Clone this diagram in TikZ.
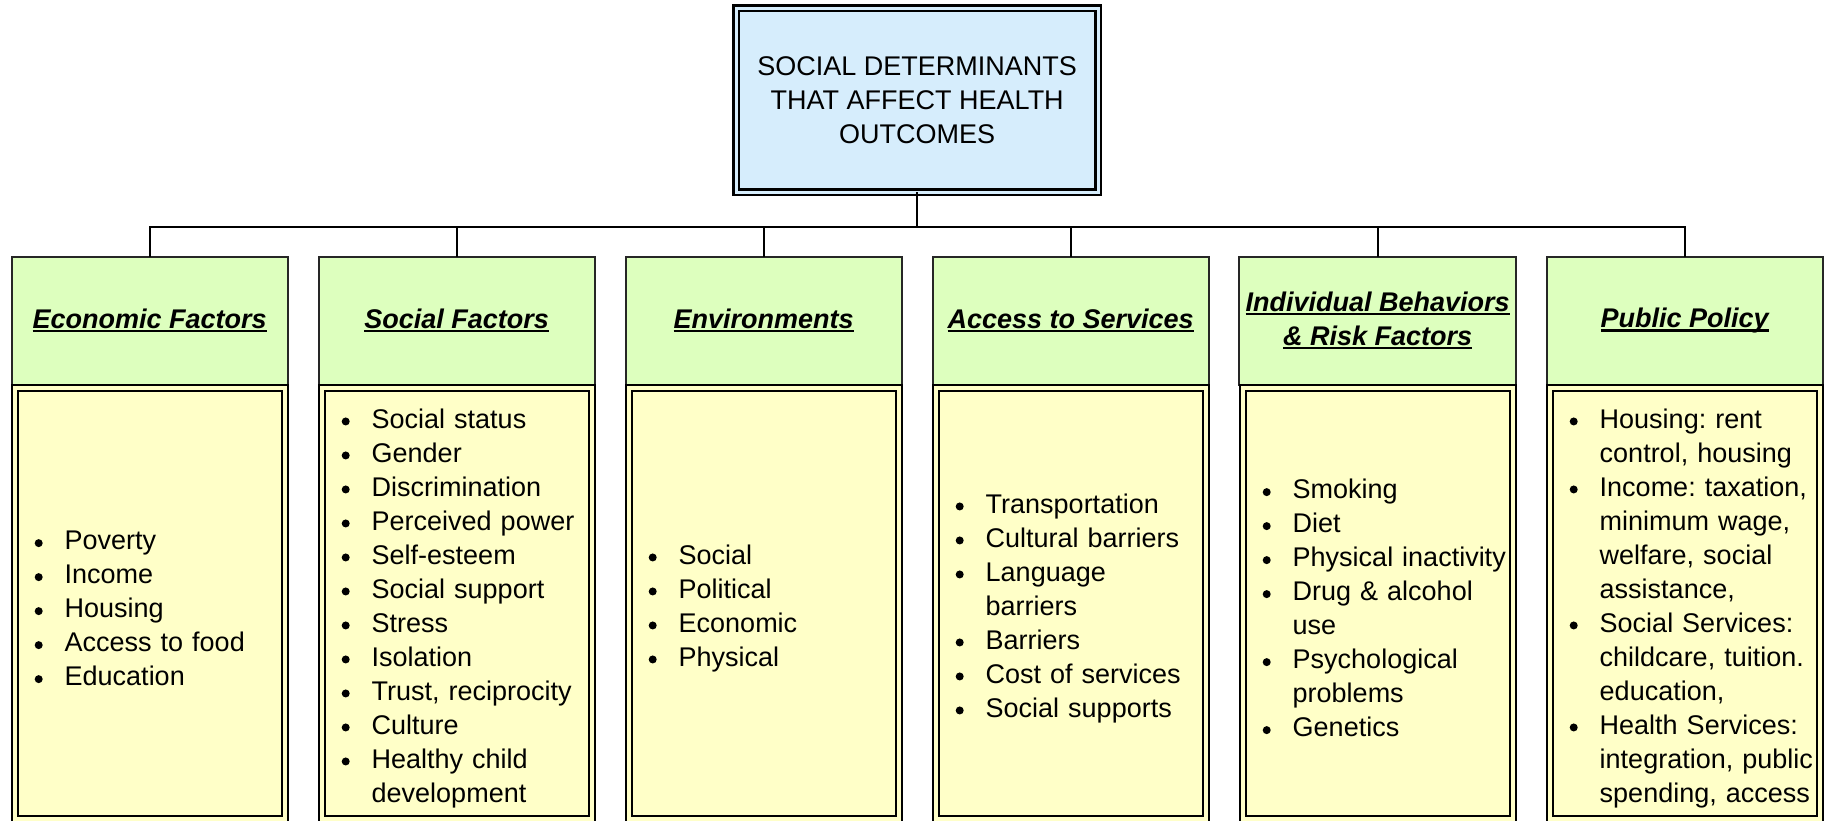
\documentclass[tikz,border=0pt]{standalone}
\usepackage{fontspec}
\setmainfont{Liberation Sans}
\usetikzlibrary{trees}
\usetikzlibrary{positioning}
\definecolor{topblue}{RGB}{214,237,252}
\definecolor{headgreen}{RGB}{221,255,190}
\definecolor{listyellow}{RGB}{255,255,200}
\frenchspacing
\newcommand{\hul}[1]{\sbox0{#1}\rlap{\rule[-1.9pt]{\wd0}{1.2pt}}\usebox0}
\newcommand{\dotb}{\tikz[baseline=-3.4pt]\fill (0,0) circle (2pt);}
\newcommand{\blt}[1]{\makebox[14.5pt][l]{\hspace*{-0.5pt}\dotb}\mbox{#1}}
\newcommand{\bltc}[1]{\hspace*{14.5pt}\mbox{#1}}

\begin{document}
\begin{tikzpicture}
[-,line width=1pt,%
  every node/.style={shape=rectangle,outer sep=0pt,font=\fontsize{13.5}{17}\selectfont},%
  rootbox/.style={draw,line width=1.2pt,double=topblue,double distance=1.55pt,fill=topblue,
    minimum width=181pt,minimum height=92pt,align=center},%
  headbox/.style={draw=black!85,line width=1pt,fill=headgreen,minimum width=138pt,
    minimum height=63.75pt,align=center,font=\fontsize{13.5}{17}\selectfont\bfseries\itshape},%
  listbox/.style={draw,line width=1pt,double=listyellow,double distance=2pt,fill=listyellow,
    minimum width=135pt,minimum height=215.5pt,text width=114pt,inner xsep=10.5pt,align=left,
    execute at begin node={\rule{0pt}{15pt}}},%
  level distance=110.3pt,sibling distance=153.5pt,%
  edge from parent path={(\tikzparentnode.south) -- ++(0,-17.6pt) -| (\tikzchildnode.north)}]
\useasboundingbox (0,0) rectangle (914.5pt,-410pt);
\node[rootbox] (root) at (458.6pt,-50.1pt) {SOCIAL DETERMINANTS\\THAT AFFECT HEALTH\\OUTCOMES}
  child {node[headbox] (eco) {\hul{Economic Factors}}}
  child {node[headbox] (soc) {\hul{Social Factors}}}
  child {node[headbox] (env) {\hul{Environments}}}
  child {node[headbox] (acc) {\hul{Access to Services}}}
  child {node[headbox] (ind) {\hul{Individual Behaviors}\\\hul{\& Risk Factors}}}
  child {node[headbox] (pol) {\hul{Public Policy}}};
\node[listbox,below=1.5pt of eco] (ecol) {\blt{Poverty}\\\blt{Income}\\\blt{Housing}\\
  \blt{Access to food}\\\blt{Education}};
\node[listbox,below=1.5pt of soc] (socl) {\blt{Social status}\\\blt{Gender}\\\blt{Discrimination}\\
  \blt{Perceived power}\\\blt{Self-esteem}\\\blt{Social support}\\\blt{Stress}\\\blt{Isolation}\\
  \blt{Trust, reciprocity}\\\blt{Culture}\\\blt{Healthy child}\\\bltc{development}};
\node[listbox,below=1.5pt of env] (envl) {\blt{Social}\\\blt{Political}\\\blt{Economic}\\\blt{Physical}};
\node[listbox,below=1.5pt of acc] (accl) {\blt{Transportation}\\\blt{Cultural barriers}\\
  \blt{Language}\\\bltc{barriers}\\\blt{Barriers}\\\blt{Cost of services}\\\blt{Social supports}};
\node[listbox,below=1.5pt of ind] (indl) {\blt{Smoking}\\\blt{Diet}\\\blt{Physical inactivity}\\
  \blt{Drug \& alcohol}\\\bltc{use}\\\blt{Psychological}\\\bltc{problems}\\\blt{Genetics}};
\node[listbox,below=1.5pt of pol] (poll) {\blt{Housing: rent}\\\bltc{control, housing}\\
  \blt{Income: taxation,}\\\bltc{minimum wage,}\\\bltc{welfare, social}\\\bltc{assistance,}\\
  \blt{Social Services:}\\\bltc{childcare, tuition.}\\\bltc{education,}\\
  \blt{Health Services:}\\\bltc{integration, public}\\\bltc{spending, access}};
\end{tikzpicture}
\end{document}
